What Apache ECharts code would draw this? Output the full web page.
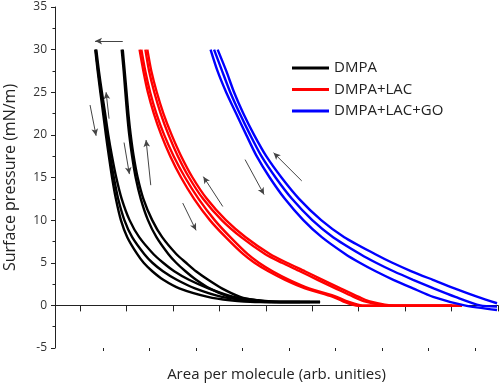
<!DOCTYPE html>
<html>
<head>
<meta charset="utf-8">
<script src="https://cdn.jsdelivr.net/npm/echarts@6/dist/echarts.min.js"></script>
<style>html,body{margin:0;padding:0;background:#fff}#c{width:500px;height:385px}</style>
</head>
<body>
<div id="c"></div>
<script>
// Surface pressure levels (mN/m) per family
const pressureDMPA = [30, 27.5, 25, 22.5, 20, 17.5, 15, 12.5, 10, 8, 6, 5, 4, 3, 2, 1, 0.6, 0.4, 0.4];
const pressureLAC  = [30, 27.5, 25, 22.5, 20, 17.5, 15, 12.5, 10, 8, 6, 5, 4, 3, 2, 1, 0.5, -0.05, -0.05];
const pressureGO1  = [30, 27.5, 25, 22.5, 20, 17.5, 15, 12.5, 10, 8, 6, 5, 4, 3, 2, 1, 0, -0.55];
const pressureGO2  = [30, 27.5, 25, 22.5, 20, 17.5, 15, 12.5, 10, 8, 6, 5, 4, 3, 2, 1, 0, -0.15];
const pressureGO3  = [30, 27.5, 25, 22.5, 20, 17.5, 15, 12.5, 10, 8, 6, 5, 4, 3, 2, 1, 0.25];

// Area per molecule (arb. units) for each cycle
const dmpaArea1 = [1.327, 1.379, 1.437, 1.497, 1.556, 1.620, 1.689, 1.771, 1.879, 2.016, 2.232, 2.369, 2.555, 2.792, 3.136, 3.752, 4.230, 4.768, 6.168];
const dmpaArea2 = [1.336, 1.390, 1.452, 1.519, 1.577, 1.648, 1.727, 1.820, 1.954, 2.122, 2.385, 2.557, 2.785, 3.082, 3.474, 4.056, 4.596, 5.091, 5.953];
const dmpaArea3 = [1.349, 1.405, 1.470, 1.540, 1.607, 1.687, 1.779, 1.896, 2.066, 2.273, 2.583, 2.789, 3.028, 3.345, 3.763, 4.310, 4.833, 5.307, 5.737];
const dmpaArea4 = [1.896, 1.939, 1.975, 2.013, 2.059, 2.120, 2.197, 2.307, 2.462, 2.645, 2.904, 3.069, 3.270, 3.498, 3.789, 4.211, 4.553, 4.984, 6.168];
const dmpaArea5 = [1.919, 1.960, 2.001, 2.040, 2.090, 2.154, 2.240, 2.363, 2.553, 2.768, 3.076, 3.283, 3.496, 3.758, 4.053, 4.447, 4.790, 5.199, 6.168];

const lacArea1 = [2.281, 2.363, 2.460, 2.589, 2.748, 2.942, 3.175, 3.455, 3.795, 4.135, 4.515, 4.755, 5.055, 5.415, 5.845, 6.445, 6.650, 6.986, 9.010];
const lacArea2 = [2.320, 2.404, 2.509, 2.643, 2.811, 3.016, 3.261, 3.552, 3.898, 4.235, 4.610, 4.850, 5.145, 5.500, 5.930, 6.525, 6.739, 7.137, 9.010];
const lacArea3 = [2.406, 2.486, 2.598, 2.736, 2.906, 3.106, 3.347, 3.649, 4.050, 4.470, 4.990, 5.345, 5.733, 6.114, 6.500, 6.889, 7.105, 7.632, 9.226];
const lacArea4 = [2.449, 2.534, 2.652, 2.795, 2.972, 3.177, 3.422, 3.730, 4.140, 4.565, 5.095, 5.453, 5.841, 6.222, 6.607, 7.001, 7.217, 7.783, 9.226];

const goArea1 = [3.810, 3.959, 4.146, 4.361, 4.579, 4.803, 5.083, 5.410, 5.808, 6.205, 6.717, 7.023, 7.365, 7.746, 8.168, 8.603, 9.280, 9.979];
const goArea2 = [3.886, 4.058, 4.234, 4.439, 4.663, 4.906, 5.210, 5.563, 6.000, 6.448, 7.038, 7.374, 7.751, 8.171, 8.614, 9.081, 9.613, 9.979];
const goArea3 = [3.963, 4.148, 4.316, 4.516, 4.747, 5.009, 5.337, 5.716, 6.192, 6.689, 7.359, 7.725, 8.138, 8.597, 9.062, 9.562, 9.979];

// Direction arrows [area, pressure] start -> end
const arrowStart = [[1.919, 31.0], [1.215, 23.5], [1.624, 21.9], [1.947, 19.1], [2.522, 14.1], [3.211, 12.0], [4.073, 11.6], [4.553, 17.1], [5.774, 14.6]];
const arrowEnd   = [[1.323, 31.0], [1.345, 19.9], [1.560, 25.0], [2.062, 15.4], [2.421, 19.4], [3.498, 8.8], [3.655, 15.1], [4.962, 13.0], [5.167, 17.9]];

const names = ['DMPA', 'DMPA+LAC', 'DMPA+LAC+GO'];
const colors = ['#000000', '#ff0000', '#0000ff'];
const xMajorTicks = [1, 2, 3, 4, 5, 6, 7, 8, 9, 10];
const xMinorTicks = [1.5, 2.5, 3.5, 4.5, 5.5, 6.5, 7.5, 8.5, 9.5];

function pairs(xs, ys) { return xs.map((x, i) => [x, ys[i]]); }

const curves = [
  [0, dmpaArea1, pressureDMPA], [0, dmpaArea2, pressureDMPA], [0, dmpaArea3, pressureDMPA],
  [0, dmpaArea4, pressureDMPA], [0, dmpaArea5, pressureDMPA],
  [1, lacArea1, pressureLAC], [1, lacArea2, pressureLAC], [1, lacArea3, pressureLAC], [1, lacArea4, pressureLAC],
  [2, goArea1, pressureGO1], [2, goArea2, pressureGO2], [2, goArea3, pressureGO3]
];

const series = curves.map(([k, xs, ys]) => ({
  type: 'line', name: names[k], data: pairs(xs, ys),
  xAxisIndex: 0, yAxisIndex: 0,
  showSymbol: false, symbol: 'none', smooth: 0.25,
  color: colors[k],
  lineStyle: { color: colors[k], width: 2.4 },
  emphasis: { disabled: true },
  silent: true, animation: false
}));

series.push({
  type: 'line', name: 'arrows', data: [], xAxisIndex: 0, yAxisIndex: 0,
  silent: true, animation: false,
  markLine: {
    silent: true, animation: false,
    symbol: ['none', 'arrow'], symbolSize: [5, 7],
    label: { show: false },
    lineStyle: { color: '#444', width: 1, type: 'solid' },
    emphasis: { disabled: true },
    data: arrowStart.map((s, i) => [{ coord: s }, { coord: arrowEnd[i] }])
  }
});

const chart = echarts.init(document.getElementById('c'), null, { renderer: 'canvas' });
chart.setOption({
  animation: false,
  backgroundColor: '#fff',
  textStyle: { fontFamily: 'Open Sans' },
  grid: { left: 55, right: 2, top: 7, bottom: 37, containLabel: false, outerBoundsMode: 'none' },
  legend: {
    data: names, orient: 'vertical', left: 287, top: 55,
    icon: 'rect', itemWidth: 37, itemHeight: 3, itemGap: 5.5,
    textStyle: { fontFamily: 'Open Sans', fontSize: 15, color: '#222', lineHeight: 16 },
    selectedMode: false
  },
  xAxis: [{
    type: 'value', min: 0.46, max: 10,
    name: 'Area per molecule (arb. unities)', nameLocation: 'middle', nameGap: 19,
    nameTextStyle: { fontFamily: 'Open Sans', fontSize: 15, color: '#222' },
    axisLine: { show: true, lineStyle: { color: '#222', width: 1 } },
    axisTick: { show: true, customValues: xMajorTicks, length: 6, lineStyle: { color: '#222' } },
    axisLabel: { show: false },
    splitLine: { show: false }
  }, {
    type: 'value', min: 0.46, max: 10, position: 'bottom',
    axisLine: { show: false },
    axisTick: { show: true, customValues: xMinorTicks, length: 3, lineStyle: { color: '#222' } },
    axisLabel: { show: false },
    splitLine: { show: false }
  }],
  yAxis: {
    type: 'value', min: -5, max: 35, interval: 5,
    name: 'Surface pressure (mN/m)', nameLocation: 'middle', nameGap: 37,
    nameTextStyle: { fontFamily: 'Open Sans', fontSize: 16, color: '#222' },
    axisLine: { show: true, lineStyle: { color: '#222', width: 1 } },
    axisTick: { show: true, length: 4, lineStyle: { color: '#222' } },
    minorTick: { show: true, splitNumber: 2, length: 2.5, lineStyle: { color: '#222' } },
    axisLabel: { fontFamily: 'Open Sans', fontSize: 12, color: '#333', margin: 8 },
    splitLine: { show: false }
  },
  series: series
});
</script>
</body>
</html>
